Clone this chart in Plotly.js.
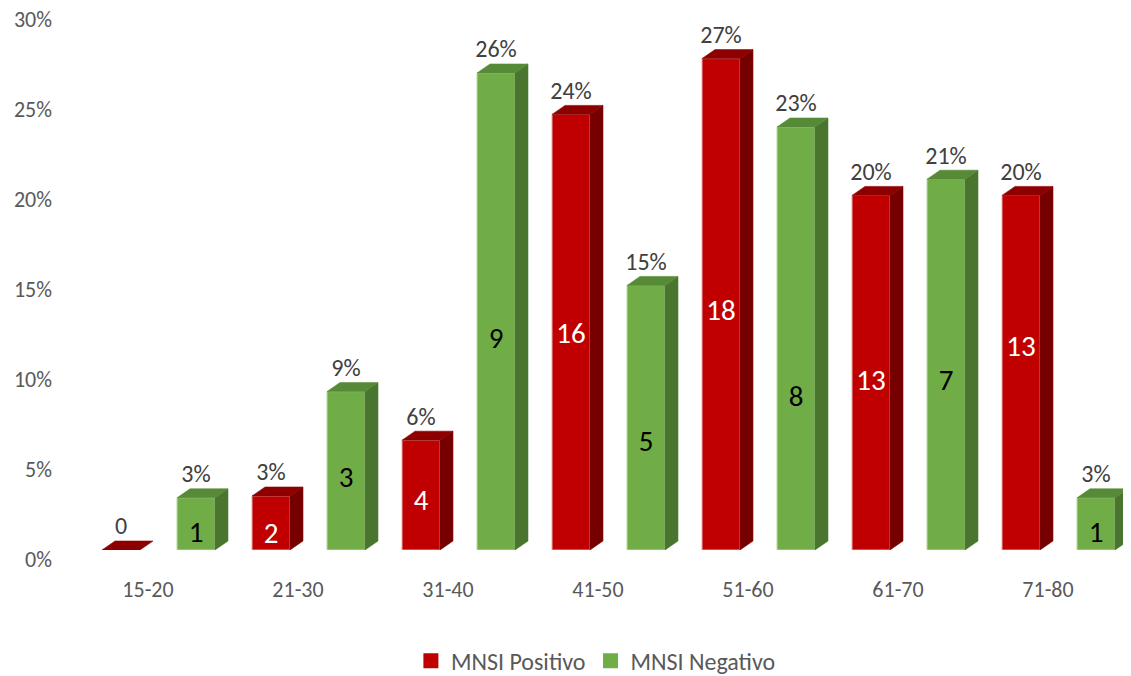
<!DOCTYPE html>
<html>
<head>
<meta charset="utf-8">
<script src="https://cdn.plot.ly/plotly-3.0.1.min.js"></script>
<style>html,body{margin:0;padding:0;background:#fff;}#chart{width:1131px;height:676px;}</style>
</head>
<body>
<div id="chart"></div>
<script>
// ---- data ----
const categories = ["15-20", "21-30", "31-40", "41-50", "51-60", "61-70", "71-80"];
const posPercent = [0.0, 3.0, 6.1, 24.2, 27.3, 19.7, 19.7];   // MNSI Positivo, % of group
const negPercent = [2.9, 8.8, 26.5, 14.7, 23.5, 20.6, 2.9];   // MNSI Negativo, % of group
const posCount = [0, 2, 4, 16, 18, 13, 13];
const negCount = [1, 3, 9, 5, 8, 7, 1];
const posPctLabels = ["0", "3%", "6%", "24%", "27%", "20%", "20%"];
const negPctLabels = ["3%", "9%", "26%", "15%", "23%", "21%", "3%"];
// heights (axis units) where the count labels sit
const posCountAt = [null, 0.8, 2.6, 11.9, 13.2, 9.3, 11.2];
const negCountAt = [0.85, 3.9, 11.6, 5.9, 8.4, 9.3, 0.85];

// ---- geometry / style ----
const FONT = "Calibri, Carlito, Lato, sans-serif";
const W = 0.253;          // front face width (category units)
const DX = 0.0867;        // depth offset x (category units)
const DY = 0.5;           // depth offset y (axis units)
const OFF_POS = -0.18, OFF_NEG = 0.32;
const LABEL_UP = 1.2;     // percent label above front top (axis units)

const RED = {front: "#C00000", top: "#8E0000", side: "#760000", edge: "#E9A3A3"};
const GREEN = {front: "#70AD47", top: "#578A37", side: "#4A752E", edge: "#B5D99C"};

function xs(off) { return categories.map((c, i) => i + off); }

function polys(off, vals, kind) {
  const X = [], Y = [];
  vals.forEach((v, i) => {
    const a = i + off - W / 2, b = i + off + W / 2;
    if (kind === "side") {
      if (v <= 0) return;
      X.push(b, b + DX, b + DX, b, b, null);
      Y.push(0, DY, v + DY, v, 0, null);
    } else {
      X.push(a, a + DX, b + DX, b, a, null);
      Y.push(v, v + DY, v + DY, v, v, null);
    }
  });
  return {x: X, y: Y};
}

function faceTrace(off, vals, kind, color) {
  const p = polys(off, vals, kind);
  return {type: "scatter", mode: "lines", x: p.x, y: p.y, fill: "toself",
    fillcolor: color, line: {width: 0.6, color: color}, hoverinfo: "skip", showlegend: false};
}

const traces = [];
[[OFF_POS, posPercent, RED, "MNSI Positivo"], [OFF_NEG, negPercent, GREEN, "MNSI Negativo"]].forEach(([off, vals, col, name]) => {
  traces.push({type: "bar", name: name, x: xs(off), y: vals, width: W, showlegend: false,
    marker: {color: col.front, line: {color: col.edge, width: 1}}, hoverinfo: "y"});
  traces.push(faceTrace(off, vals, "side", col.side));
  traces.push(faceTrace(off, vals, "top", col.top));
});

// legend entries
[[RED, "MNSI Positivo"], [GREEN, "MNSI Negativo"]].forEach(([col, name]) => {
  traces.push({type: "scatter", mode: "markers", name: name, x: [null], y: [null],
    marker: {symbol: "square", size: 15, color: col.front}, showlegend: true, hoverinfo: "skip"});
});

// percent labels
traces.push({type: "scatter", mode: "text", x: xs(OFF_POS), y: posPercent.map(v => v + LABEL_UP),
  text: posPctLabels, textfont: {family: FONT, size: 24, color: "#404040"}, showlegend: false, hoverinfo: "skip", cliponaxis: false});
traces.push({type: "scatter", mode: "text", x: xs(OFF_NEG), y: negPercent.map(v => v + LABEL_UP),
  text: negPctLabels, textfont: {family: FONT, size: 24, color: "#404040"}, showlegend: false, hoverinfo: "skip", cliponaxis: false});
// count labels
traces.push({type: "scatter", mode: "text", x: xs(OFF_POS), y: posCountAt,
  text: posCount.map(String), textfont: {family: FONT, size: 29, color: "#FFFFFF"}, showlegend: false, hoverinfo: "skip"});
traces.push({type: "scatter", mode: "text", x: xs(OFF_NEG), y: negCountAt,
  text: negCount.map(String), textfont: {family: FONT, size: 29, color: "#000000"}, showlegend: false, hoverinfo: "skip"});

const layout = {
  width: 1131, height: 676,
  margin: {l: 73, r: 8, t: 10, b: 126},
  paper_bgcolor: "#FFFFFF", plot_bgcolor: "#FFFFFF",
  barmode: "overlay",
  font: {family: FONT, size: 22, color: "#595959"},
  xaxis: {range: [-0.5, 6.5], tickvals: categories.map((c, i) => i), ticktext: categories,
    showgrid: false, zeroline: false, showline: false, ticks: "", ticklabelstandoff: 24, automargin: false,
    tickfont: {family: FONT, size: 22, color: "#595959"}, fixedrange: true},
  yaxis: {range: [0, 30], tickvals: [0, 5, 10, 15, 20, 25, 30], ticktext: ["0%", "5%", "10%", "15%", "20%", "25%", "30%"],
    showgrid: false, zeroline: false, showline: false, ticks: "", ticklabelshift: 9, ticklabelstandoff: 20, automargin: false,
    tickfont: {family: FONT, size: 22, color: "#595959"}, fixedrange: true},
  showlegend: true,
  legend: {orientation: "h", x: 0.498, xanchor: "center", yref: "container", y: 0.022, yanchor: "middle",
    itemwidth: 30, font: {family: FONT, size: 24, color: "#595959"}, traceorder: "normal"}
};

Plotly.newPlot("chart", traces, layout, {displayModeBar: false, staticPlot: true});
</script>
</body>
</html>
